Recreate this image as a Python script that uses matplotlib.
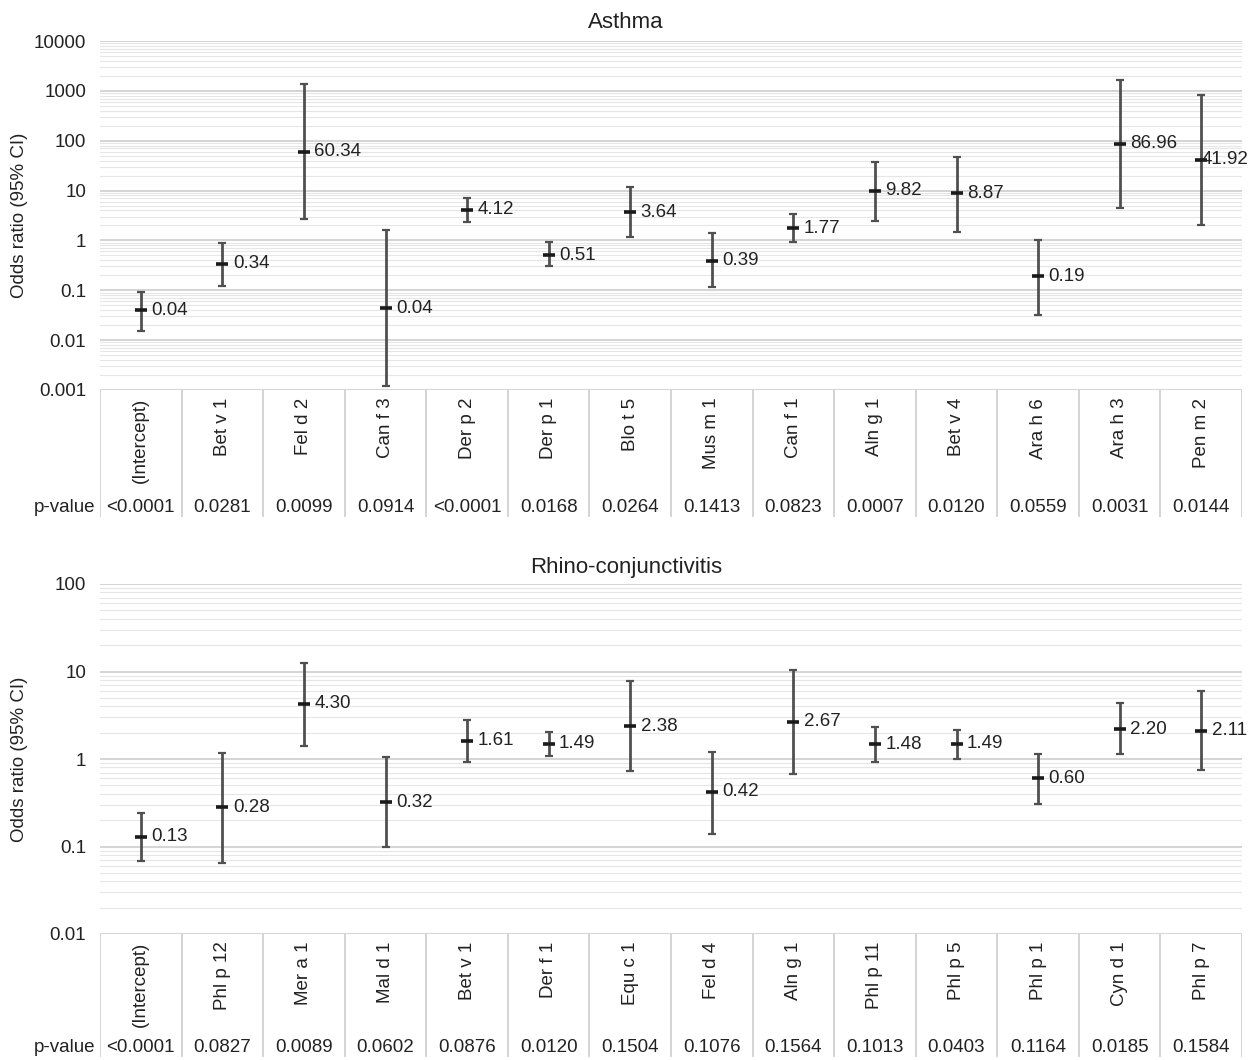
import numpy as np
import matplotlib
matplotlib.use("Agg")
import matplotlib.pyplot as plt

plt.rcParams['font.family'] = ['Liberation Sans', 'DejaVu Sans']

# Asthma model
asthma_labels = ['(Intercept)', 'Bet v 1', 'Fel d 2', 'Can f 3', 'Der p 2', 'Der p 1', 'Blo t 5',
                 'Mus m 1', 'Can f 1', 'Aln g 1', 'Bet v 4', 'Ara h 6', 'Ara h 3', 'Pen m 2']
asthma_or = [0.04, 0.34, 60.34, 0.044, 4.12, 0.51, 3.64, 0.39, 1.77, 9.82, 8.87, 0.19, 86.96, 41.92]
asthma_lo = [0.015, 0.12, 2.7, 0.0012, 2.38, 0.30, 1.15, 0.118, 0.95, 2.46, 1.48, 0.032, 4.5, 2.05]
asthma_hi = [0.092, 0.89, 1380, 1.63, 7.2, 0.91, 11.6, 1.39, 3.4, 38, 47.6, 1.03, 1650, 830]
asthma_p = ['<0.0001', '0.0281', '0.0099', '0.0914', '<0.0001', '0.0168', '0.0264', '0.1413',
            '0.0823', '0.0007', '0.0120', '0.0559', '0.0031', '0.0144']

# Rhino-conjunctivitis model
rhino_labels = ['(Intercept)', 'Phl p 12', 'Mer a 1', 'Mal d 1', 'Bet v 1', 'Der f 1', 'Equ c 1',
                'Fel d 4', 'Aln g 1', 'Phl p 11', 'Phl p 5', 'Phl p 1', 'Cyn d 1', 'Phl p 7']
rhino_or = [0.13, 0.28, 4.30, 0.32, 1.61, 1.49, 2.38, 0.42, 2.67, 1.48, 1.49, 0.60, 2.20, 2.11]
rhino_lo = [0.068, 0.065, 1.41, 0.10, 0.93, 1.08, 0.72, 0.14, 0.68, 0.93, 1.0, 0.31, 1.15, 0.74]
rhino_hi = [0.24, 1.17, 12.5, 1.05, 2.79, 2.01, 7.7, 1.2, 10.5, 2.34, 2.16, 1.15, 4.33, 5.94]
rhino_p = ['<0.0001', '0.0827', '0.0089', '0.0602', '0.0876', '0.0120', '0.1504', '0.1076',
           '0.1564', '0.1013', '0.0403', '0.1164', '0.0185', '0.1584']

asthma_ticks = [0.001, 0.01, 0.1, 1, 10, 100, 1000, 10000]
asthma_ticklabels = ['0.001', '0.01', '0.1', '1', '10', '100', '1000', '10000']
rhino_ticks = [0.01, 0.1, 1, 10, 100]
rhino_ticklabels = ['0.01', '0.1', '1', '10', '100']

W, H = 1251, 1060
fig = plt.figure(figsize=(W / 100, H / 100), dpi=100)

GRID_MAJOR = '#d4d4d4'
GRID_MINOR = '#e6e6e6'
BAR = '#505050'
TXT = '#222222'
FS = 13.5

value_labels = []


def px_axes(x0, y0, x1, y1):
    return fig.add_axes([x0 / W, 1 - y1 / H, (x1 - x0) / W, (y1 - y0) / H])


def panel(y_top, y_bot, table_bot, title, title_y, labels, orv, lo, hi, pvals,
          ticks, ticklabels):
    left, right = 100, 1242
    ax = px_axes(left, y_top, right, y_bot)
    n = len(labels)
    x = np.arange(n)
    ax.set_yscale('log')
    ax.set_ylim(ticks[0], ticks[-1])
    ax.set_xlim(-0.5, n - 0.5)
    # minor gridlines
    for d in ticks[:-1]:
        for m in range(2, 10):
            ax.axhline(d * m, color=GRID_MINOR, lw=0.8, zorder=0)
    for t in ticks:
        ax.axhline(t, color=GRID_MAJOR, lw=1.4, zorder=1)
    orv = np.array(orv)
    yerr = np.vstack([orv - np.array(lo), np.array(hi) - orv])
    ax.errorbar(x, orv, yerr=yerr, fmt='none', ecolor=BAR, elinewidth=2.0,
                capsize=2.7, capthick=1.6, zorder=3)
    ax.plot(x, orv, linestyle='none', marker='_', markersize=9, mew=2.6,
            color='#1a1a1a', zorder=4)
    for xi, v in zip(x, orv):
        t = ax.annotate(f'{v:.2f}', (xi, v), xytext=(7.5, 0), textcoords='offset points',
                        ha='left', va='center', fontsize=FS, color=TXT,
                        annotation_clip=False, zorder=5)
        value_labels.append(t)
    ax.set_yticks(ticks)
    ax.set_yticklabels(ticklabels, fontsize=FS, color=TXT)
    ax.yaxis.set_minor_locator(matplotlib.ticker.NullLocator())
    ax.tick_params(axis='y', length=0, pad=10)
    ax.set_xticks([])
    for s in ax.spines.values():
        s.set_visible(False)
    ax.set_ylabel('Odds ratio (95% CI)', fontsize=FS, color=TXT)
    ax.yaxis.set_label_coords(-72 / (right - left), 0.5)
    fig.text(626 / W, 1 - title_y / H, title, ha='center', va='center',
             fontsize=16, color=TXT)

    # category / p-value table under the plot
    tb = px_axes(left, y_bot, right, table_bot)
    tb.set_xlim(-0.5, n - 0.5)
    tb.set_ylim(1, 0)
    tb.axis('off')
    for k in range(n + 1):
        tb.plot([k - 0.5, k - 0.5], [0, 0.98], color=GRID_MAJOR, lw=1.4,
                solid_capstyle='butt')
    for xi, lab, p in zip(x, labels, pvals):
        tb.text(xi, 0.06, lab, rotation=90, ha='center', va='top', fontsize=FS,
                color=TXT)
        tb.text(xi, 0.90, p, ha='center', va='center', fontsize=FS, color=TXT)
    tb.text(-0.5 - 5 / 81.5, 0.90, 'p-value', ha='right', va='center', fontsize=FS,
            color=TXT)
    return ax


panel(41, 390, 520, 'Asthma', 22, asthma_labels, asthma_or, asthma_lo, asthma_hi,
      asthma_p, asthma_ticks, asthma_ticklabels)
panel(584, 934, 1060, 'Rhino-conjunctivitis', 568, rhino_labels, rhino_or, rhino_lo,
      rhino_hi, rhino_p, rhino_ticks, rhino_ticklabels)

# pull value labels back inside the figure when they would run past the right edge
fig.canvas.draw()
renderer = fig.canvas.get_renderer()
for t in value_labels:
    bb = t.get_window_extent(renderer)
    overflow = bb.x1 - (W - 2)
    if overflow > 0:
        dx, dy = t.xyann
        t.xyann = (dx - overflow * 72 / fig.dpi, dy)

fig.savefig('out.png', dpi=100, facecolor='white')
